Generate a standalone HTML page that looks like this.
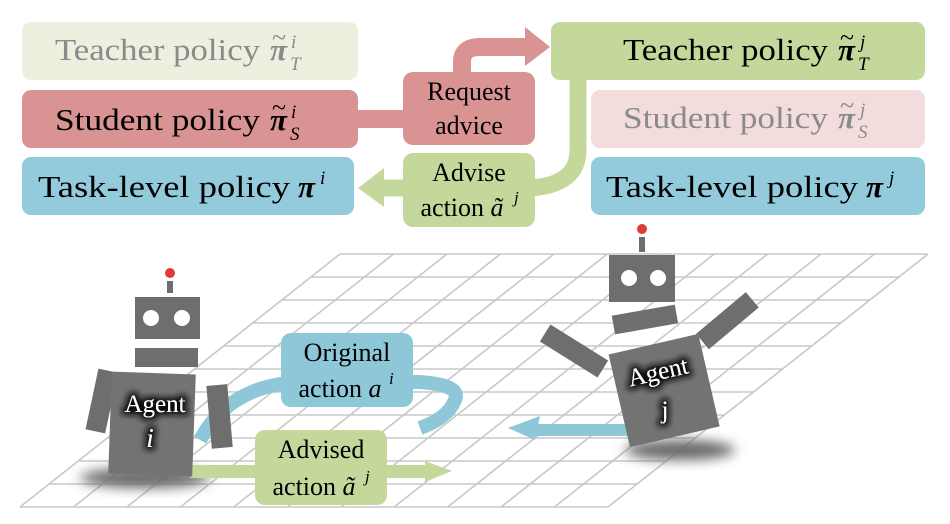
<!DOCTYPE html>
<html><head><meta charset="utf-8"><style>
html,body{margin:0;padding:0;background:#fff;width:950px;height:524px;overflow:hidden}
svg{display:block}
text{font-family:"Liberation Serif",serif;}
</style></head><body>
<svg width="950" height="524" viewBox="0 0 950 524" xmlns="http://www.w3.org/2000/svg">
<defs>
<filter id="blur" x="-50%" y="-50%" width="200%" height="200%"><feGaussianBlur stdDeviation="6"/></filter>
<filter id="glow" x="-30%" y="-30%" width="160%" height="160%"><feMorphology operator="dilate" radius="3" in="SourceAlpha" result="d"/><feGaussianBlur in="d" stdDeviation="3" result="b"/><feFlood flood-color="#111"/><feComposite in2="b" operator="in" result="s"/><feMerge><feMergeNode in="s"/><feMergeNode in="SourceGraphic"/></feMerge></filter>
</defs>
<!-- grid -->
<path stroke="#c8c8c8" stroke-width="1.6" fill="none" d="
M340 254H928 M310.9 277H898.9 M281.8 300H869.8 M252.7 323H840.7 M223.6 346H811.6 M194.5 369H782.5 M165.4 392H753.4 M136.3 415H724.3 M107.2 438H695.2 M78.1 461H666.1 M49 484H637 M20 507H608
M340 254L20 507 M393.5 254L73.5 507 M446.9 254L126.9 507 M500.4 254L180.4 507 M553.8 254L233.8 507 M607.3 254L287.3 507 M660.7 254L340.7 507 M714.2 254L394.2 507 M767.6 254L447.6 507 M821.1 254L501.1 507 M874.5 254L554.5 507 M928 254L608 507"/>

<!-- top boxes -->
<rect x="22" y="22" width="336" height="58" rx="9" fill="#ebf0df"/>
<g fill="#8a8a8a"><text x="55" y="60" font-size="31" textLength="205" lengthAdjust="spacingAndGlyphs">Teacher policy</text>
<text x="270" y="60" font-size="31" font-style="italic" font-weight="bold">π</text><text x="272" y="46" font-size="26">~</text>
<text x="291" y="48" font-size="19" font-style="italic">i</text><text x="290" y="70" font-size="19" font-style="italic">T</text></g>

<rect x="22" y="90" width="336" height="58" rx="9" fill="#d99393"/>
<rect x="340" y="110" width="80" height="18" fill="#d99393"/>
<g fill="#000"><text x="55" y="130" font-size="31" textLength="205" lengthAdjust="spacingAndGlyphs">Student policy</text>
<text x="270" y="130" font-size="31" font-style="italic" font-weight="bold">π</text><text x="272" y="116" font-size="26">~</text>
<text x="291" y="118" font-size="19" font-style="italic">i</text><text x="290" y="140" font-size="19" font-style="italic">S</text></g>

<rect x="22" y="157" width="332" height="58" rx="9" fill="#93cbdc"/>
<text x="38" y="197" font-size="31" textLength="252" lengthAdjust="spacingAndGlyphs">Task-level policy</text>
<text x="298" y="197" font-size="31" font-style="italic" font-weight="bold">π</text>
<text x="320" y="184" font-size="19" font-style="italic">i</text>

<rect x="551" y="22" width="374" height="58" rx="9" fill="#c5d89c"/>
<text x="623" y="60" font-size="31" textLength="205" lengthAdjust="spacingAndGlyphs">Teacher policy</text>
<text x="838" y="60" font-size="31" font-style="italic" font-weight="bold">π</text><text x="840" y="46" font-size="26">~</text>
<text x="860" y="48" font-size="19" font-style="italic">j</text><text x="858" y="70" font-size="19" font-style="italic">T</text>

<rect x="591" y="90" width="334" height="58" rx="9" fill="#f3dcdc"/>
<g fill="#8a8a8a"><text x="623" y="128" font-size="31" textLength="205" lengthAdjust="spacingAndGlyphs">Student policy</text>
<text x="838" y="128" font-size="31" font-style="italic" font-weight="bold">π</text><text x="840" y="114" font-size="26">~</text>
<text x="860" y="116" font-size="19" font-style="italic">j</text><text x="858" y="138" font-size="19" font-style="italic">S</text></g>

<rect x="591" y="157" width="334" height="58" rx="9" fill="#93cbdc"/>
<text x="606" y="197" font-size="31" textLength="252" lengthAdjust="spacingAndGlyphs">Task-level policy</text>
<text x="866" y="197" font-size="31" font-style="italic" font-weight="bold">π</text>
<text x="889" y="184" font-size="19" font-style="italic">j</text>

<!-- red curved arrow -->
<path d="M462 75 L462 62 Q462 47 480 47 L528 47" stroke="#d99393" stroke-width="18" fill="none"/>
<polygon points="525,27 550,47 525,66" fill="#d99393"/>
<!-- green curve -->
<path d="M578 78 L578 150 Q578 185 530 188 L380 188" stroke="#c5d89c" stroke-width="17" fill="none"/>
<polygon points="384,168 358,188 384,207" fill="#c5d89c"/>
<rect x="403" y="72" width="132" height="73" rx="10" fill="#d99393"/>
<text x="469" y="100" font-size="26" text-anchor="middle">Request</text>
<text x="469" y="134" font-size="26" text-anchor="middle">advice</text>
<rect x="403" y="153" width="132" height="74" rx="10" fill="#c5d89c"/>
<text x="469" y="181" font-size="26" text-anchor="middle">Advise</text>
<text x="462" y="216" font-size="26" text-anchor="middle">action <tspan font-style="italic">ã</tspan></text>
<text x="514" y="203" font-size="17" font-style="italic">j</text>

<!-- shadows -->
<ellipse cx="145" cy="478" rx="65" ry="10" fill="#666" filter="url(#blur)"/>
<ellipse cx="680" cy="450" rx="55" ry="10" fill="#666" filter="url(#blur)"/>

<!-- blue curve -->
<path d="M200 440 Q230 385 300 382 L420 382 Q462 385 455 400 Q448 418 420 428" stroke="#8ec8d8" stroke-width="14" fill="none"/>
<!-- green lower arrow -->
<rect x="190" y="465" width="235" height="13" fill="#c5d89c"/>
<polygon points="425,461 452,471 425,482" fill="#c5d89c"/>
<!-- blue arrow j -->
<rect x="530" y="424" width="105" height="12" fill="#8ec8d8"/>
<polygon points="540,416 508,428 535,440" fill="#8ec8d8"/>

<!-- agent i -->
<circle cx="170" cy="273" r="5" fill="#e03a3a"/>
<rect x="167" y="281" width="6" height="12" fill="#6e6e6e"/>
<rect x="135" y="297" width="65" height="42" fill="#6e6e6e"/>
<circle cx="151" cy="318" r="8" fill="#fff"/><circle cx="182" cy="318" r="8" fill="#fff"/>
<rect x="135" y="348" width="63" height="19" fill="#6e6e6e"/>
<rect x="92" y="370" width="20" height="62" fill="#6e6e6e" transform="rotate(12 102 400)"/>
<rect x="209" y="385" width="21" height="63" fill="#6e6e6e" transform="rotate(-5 219 416)"/>
<rect x="110" y="373" width="84" height="102" fill="#737373" transform="rotate(2 151 424)"/>
<g filter="url(#glow)" fill="#fff"><text x="155" y="412" font-size="25" text-anchor="middle">Agent</text>
<text x="150" y="447" font-size="27" font-style="italic" text-anchor="middle">i</text></g>

<!-- agent j -->
<circle cx="642" cy="229" r="5" fill="#e03a3a"/>
<rect x="639" y="237" width="6" height="15" fill="#6e6e6e"/>
<rect x="609" y="255" width="66" height="47" fill="#6e6e6e"/>
<circle cx="629" cy="278" r="8" fill="#fff"/><circle cx="658" cy="278" r="8" fill="#fff"/>
<rect x="613" y="310" width="64" height="19" fill="#6e6e6e" transform="rotate(-10 645 320)"/>
<rect x="540" y="341" width="68" height="20" fill="#6e6e6e" transform="rotate(32 574 351)"/>
<rect x="695" y="311" width="65" height="20" fill="#6e6e6e" transform="rotate(-40 727 321)"/>
<rect x="618" y="343" width="92" height="95" fill="#737373" transform="rotate(-13 664 390)"/>
<g filter="url(#glow)" fill="#fff"><text x="658" y="380" font-size="25" text-anchor="middle" transform="rotate(-13 658 372)">Agent</text>
<text x="665" y="418" font-size="25" text-anchor="middle">j</text></g>

<!-- lower boxes -->
<rect x="281" y="333" width="132" height="74" rx="10" fill="#8ec8d8"/>
<text x="347" y="361" font-size="26" text-anchor="middle">Original</text>
<text x="340" y="397" font-size="26" text-anchor="middle">action <tspan font-style="italic">a</tspan></text>
<text x="389" y="384" font-size="17" font-style="italic">i</text>
<rect x="255" y="430" width="132" height="75" rx="10" fill="#c5d89c"/>
<text x="321" y="458" font-size="26" text-anchor="middle">Advised</text>
<text x="314" y="495" font-size="26" text-anchor="middle">action <tspan font-style="italic">ã</tspan></text>
<text x="365" y="482" font-size="17" font-style="italic">j</text>
</svg>
</body></html>
